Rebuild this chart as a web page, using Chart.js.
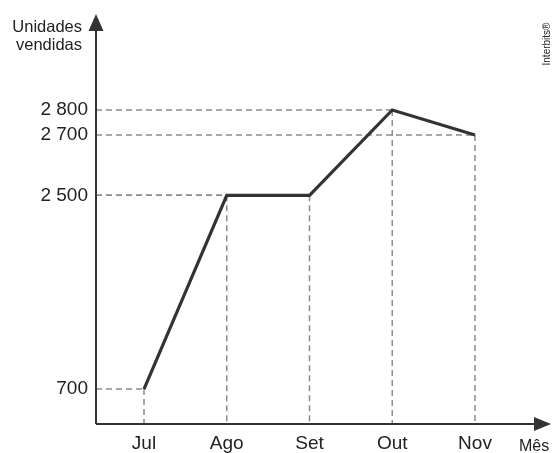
<!DOCTYPE html>
<html><head><meta charset="utf-8">
<script src="https://cdn.jsdelivr.net/npm/chart.js@4.4.0/dist/chart.umd.min.js"></script>
<style>html,body{margin:0;padding:0;background:#fff}#wrap{width:552px;height:453px;position:relative}</style>
</head><body><div id="wrap"><canvas id="c"></canvas></div>
<script>
const months = ['Jul','Ago','Set','Out','Nov'];
const unidades = [700,2500,2500,2800,2700];
const yTicks = [700,2500,2700,2800];
const yTitle = ['Unidades','vendidas'];
const xTitle = 'Mês';
const credit = 'Interbits®';

// Axis is drawn "not to scale": piecewise linear mapping value -> fraction of axis
class PiecewiseScale extends Chart.LinearScale {
  _frac(v){
    const a = this.options.anchors;
    if (v <= a[0][0]) return a[0][1];
    for (let i=1;i<a.length;i++){
      if (v <= a[i][0]) {
        const t=(v-a[i-1][0])/(a[i][0]-a[i-1][0]);
        return a[i-1][1]+t*(a[i][1]-a[i-1][1]);
      }
    }
    return a[a.length-1][1];
  }
  getPixelForValue(v){ return this.getPixelForDecimal(this._frac(v)); }
  getValueForPixel(p){
    const d=this.getDecimalForPixel(p), a=this.options.anchors;
    for (let i=1;i<a.length;i++){
      if (d <= a[i][1]) {
        const t=(d-a[i-1][1])/(a[i][1]-a[i-1][1]);
        return a[i-1][0]+t*(a[i][0]-a[i-1][0]);
      }
    }
    return a[a.length-1][0];
  }
}
PiecewiseScale.id='piecewise';
PiecewiseScale.defaults = Chart.LinearScale.defaults;
Chart.register(PiecewiseScale);

const fmt = v => String(v).replace(/\B(?=(\d{3})+(?!\d))/g,' ');
const FONT = '"Liberation Sans", Arial, sans-serif';
const INK = '#333333';

const decor = {
  id:'decor',
  beforeDatasetsDraw(chart){
    const {ctx, chartArea:ca, scales:{x,y}} = chart;
    ctx.save();
    ctx.strokeStyle='#8c8c8c'; ctx.lineWidth=1.5; ctx.setLineDash([6,4]);
    unidades.forEach((v,i)=>{
      const px=x.getPixelForValue(i), py=y.getPixelForValue(v);
      ctx.beginPath(); ctx.moveTo(ca.left,py); ctx.lineTo(px,py); ctx.stroke();
      ctx.beginPath(); ctx.moveTo(px,py); ctx.lineTo(px,ca.bottom); ctx.stroke();
    });
    ctx.restore();
  },
  afterDatasetsDraw(chart){
    const {ctx, chartArea:ca} = chart;
    ctx.save();
    ctx.strokeStyle=INK; ctx.fillStyle=INK; ctx.lineWidth=2; ctx.setLineDash([]);
    ctx.beginPath(); ctx.moveTo(ca.left,ca.bottom); ctx.lineTo(ca.left,ca.top); ctx.stroke();
    ctx.beginPath(); ctx.moveTo(ca.left,ca.bottom); ctx.lineTo(ca.right,ca.bottom); ctx.stroke();
    // arrow heads
    ctx.beginPath(); ctx.moveTo(ca.left,ca.top-16); ctx.lineTo(ca.left-7.5,ca.top+1); ctx.lineTo(ca.left+7.5,ca.top+1); ctx.closePath(); ctx.fill();
    ctx.beginPath(); ctx.moveTo(ca.right+16,ca.bottom); ctx.lineTo(ca.right-1,ca.bottom-7); ctx.lineTo(ca.right-1,ca.bottom+7); ctx.closePath(); ctx.fill();
    // titles
    ctx.fillStyle='#222';
    ctx.font='16.5px '+FONT; ctx.textAlign='right'; ctx.textBaseline='middle';
    ctx.fillText(yTitle[0], ca.left-14, 27);
    ctx.fillText(yTitle[1], ca.left-14, 45);
    ctx.font='16px '+FONT; ctx.textAlign='left';
    ctx.fillText(xTitle, ca.right-16, 447);
    ctx.font='10px '+FONT; ctx.textAlign='center';
    ctx.translate(547,44); ctx.rotate(-Math.PI/2);
    ctx.fillText(credit,0,0);
    ctx.restore();
  }
};

new Chart(document.getElementById('c'), {
  type:'line',
  data:{ datasets:[{
    data: months.map((m,i)=>({x:i,y:unidades[i]})),
    borderColor:INK, borderWidth:3.2, pointRadius:0, tension:0,
    borderJoinStyle:'miter', fill:false
  }]},
  options:{
    responsive:true, maintainAspectRatio:false, animation:false,
    layout:{padding:{top:30,right:17,left:0,bottom:0}},
    plugins:{legend:{display:false},tooltip:{enabled:false}},
    scales:{
      x:{type:'linear', min:-0.58, max:4.725,
        grid:{display:false}, border:{display:false},
        afterBuildTicks:s=>{s.ticks=months.map((m,i)=>({value:i}));},
        afterFit:s=>{s.height=29;},
        ticks:{callback:(v)=>months[v], font:{family:FONT,size:19}, color:'#222', padding:0, maxRotation:0, autoSkip:false}
      },
      y:{type:'piecewise', min:0, max:3300,
        anchors:[[0,0],[700,0.0888],[2500,0.5805],[2700,0.7335],[2800,0.797],[3300,1]],
        grid:{display:false}, border:{display:false},
        afterBuildTicks:s=>{s.ticks=yTicks.map(v=>({value:v}));},
        afterFit:s=>{s.width=96;},
        ticks:{callback:v=>fmt(v), font:{family:FONT,size:19}, color:'#222', padding:0, autoSkip:false}
      }
    }
  },
  plugins:[decor]
});
</script></body></html>
